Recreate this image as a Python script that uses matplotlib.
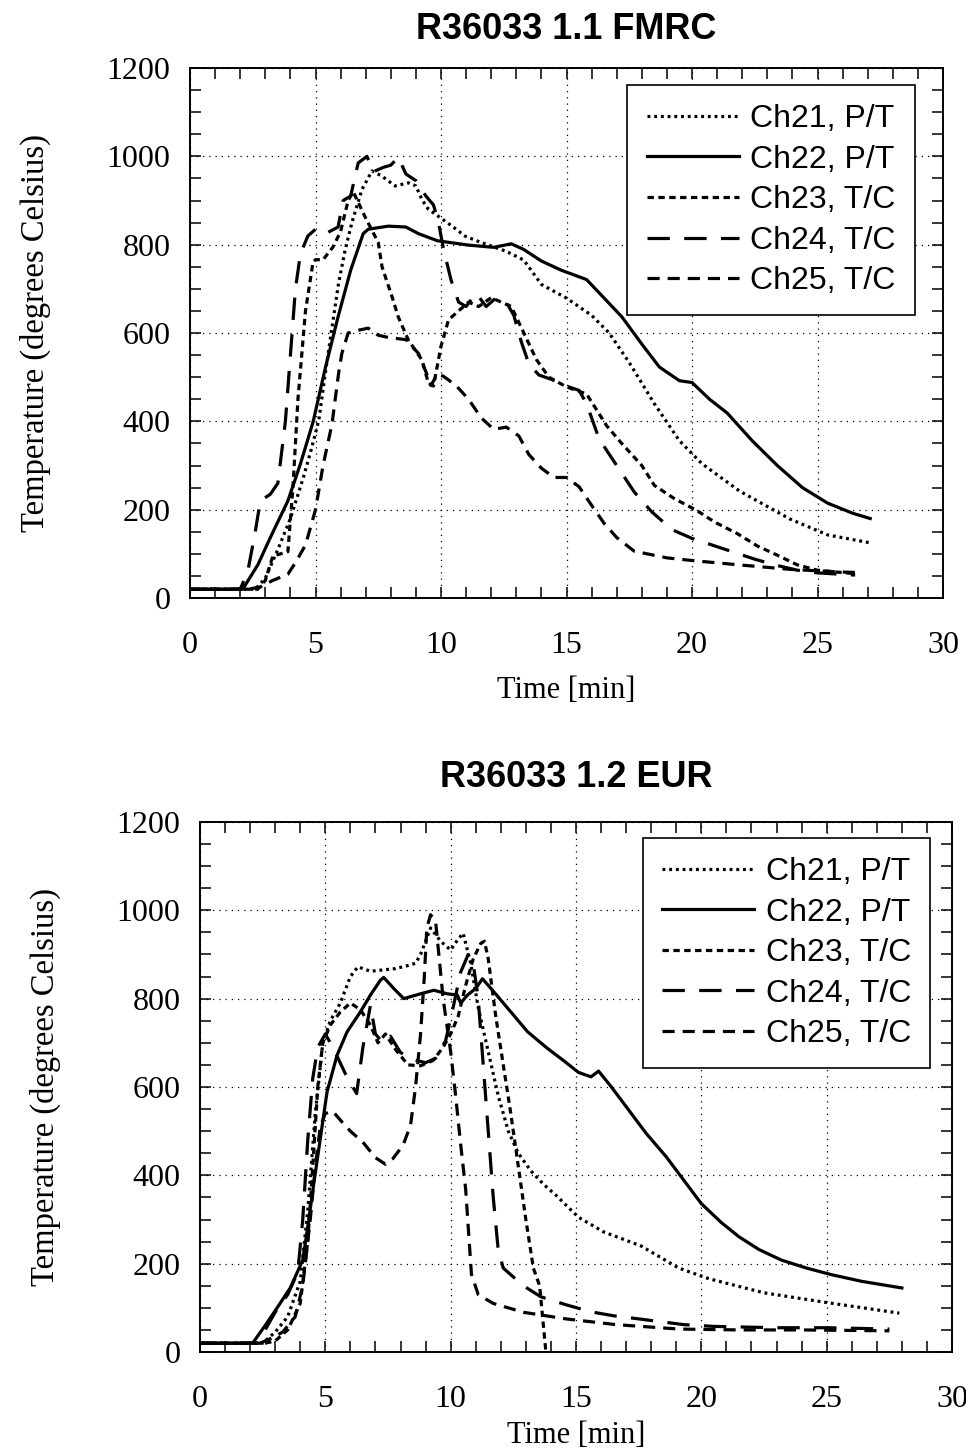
import matplotlib
matplotlib.use("Agg")
import matplotlib.pyplot as plt
from matplotlib.ticker import MultipleLocator

# ---- R36033 1.1 FMRC ----
t21a = [0, 2.6, 3.0, 3.5, 4.0, 4.5, 4.8, 5.13, 5.39, 5.66, 5.92, 6.18, 6.45, 6.85, 7.25, 7.65, 8.17, 8.7, 9.0, 9.24, 9.5, 9.9, 10.44, 10.97, 11.6, 12.1, 12.6, 13.3, 14.0, 15.0, 16.0, 16.7, 17.5, 18.5, 19.5, 20.4, 21.9, 23.9, 25.4, 27.1]
T21a = [20, 20, 45, 110, 180, 270, 330, 402, 509, 614, 713, 788, 850, 925, 967, 955, 933, 940, 933, 902, 880, 864, 842, 819, 805, 795, 785, 765, 710, 679, 640, 600, 533, 440, 356, 304, 242, 179, 143, 125]

t22a = [0, 2.1, 2.7, 3.2, 3.9, 4.4, 4.9, 5.4, 5.9, 6.4, 6.9, 7.1, 7.9, 8.6, 9.1, 9.85, 11.1, 12.1, 12.8, 13.3, 14.0, 14.8, 15.8, 16.5, 17.2, 18.0, 18.7, 19.5, 20.0, 20.7, 21.4, 22.4, 23.4, 24.4, 25.4, 26.4, 27.1]
T22a = [20, 20, 75, 137, 220, 304, 398, 523, 637, 742, 825, 835, 842, 840, 825, 809, 799, 794, 802, 789, 763, 742, 721, 679, 637, 575, 523, 492, 488, 450, 419, 356, 300, 250, 215, 192, 180]

t23a = [0, 2.7, 3.0, 3.3, 3.9, 4.1, 4.3, 4.6, 4.9, 5.0, 5.3, 5.7, 6.0, 6.3, 6.5, 7.0, 7.5, 7.65, 8.05, 8.3, 8.7, 9.24, 9.5, 9.7, 10.0, 10.3, 10.7, 11.1, 11.5, 12.0, 12.4, 12.8, 13.3, 13.8, 14.3, 15.0, 15.8, 16.1, 16.6, 17.2, 17.6, 18.0, 18.5, 19.3, 20.2, 20.9, 21.8, 22.6, 23.4, 24.2, 25.0, 26.5]
T23a = [20, 20, 40, 95, 105, 250, 450, 650, 760, 766, 766, 795, 830, 900, 920, 860, 805, 750, 682, 636, 584, 539, 486, 480, 570, 630, 650, 670, 660, 680, 670, 660, 600, 540, 500, 478, 462, 435, 390, 350, 325, 300, 255, 225, 198, 172, 146, 118, 97, 75, 63, 55]

t24a = [0, 2.0, 2.3, 2.6, 2.8, 3.2, 3.5, 3.8, 4.0, 4.2, 4.4, 4.7, 5.0, 5.4, 5.9, 6.1, 6.4, 6.7, 7.05, 7.3, 7.7, 8.0, 8.3, 8.6, 9.0, 9.4, 9.7, 9.9, 10.1, 10.4, 10.7, 11.0, 11.4, 11.8, 12.2, 12.6, 12.9, 13.2, 13.5, 13.9, 14.4, 15.0, 15.5, 15.8, 16.3, 17.0, 17.7, 18.4, 19.2, 20.0, 20.8, 21.6, 22.5, 23.3, 24.2, 25.0, 26.5]
T24a = [20, 20, 60, 150, 220, 235, 260, 400, 550, 700, 780, 820, 835, 825, 840, 900, 910, 985, 1000, 965, 975, 980, 998, 960, 945, 910, 890, 850, 790, 720, 670, 660, 690, 660, 680, 670, 640, 580, 530, 505, 495, 480, 470, 440, 360, 300, 240, 195, 155, 135, 120, 105, 88, 75, 63, 57, 52]

t25a = [0, 2.3, 2.8, 3.3, 3.9, 4.2, 4.6, 5.0, 5.3, 5.66, 5.78, 5.92, 6.05, 6.3, 6.6, 7.1, 7.5, 7.9, 8.6, 9.1, 9.4, 9.6, 9.85, 10.1, 10.6, 11.1, 11.6, 12.1, 12.6, 13.1, 13.5, 14.0, 14.5, 15.0, 15.5, 16.0, 16.5, 17.0, 17.7, 19.0, 20.0, 21.9, 23.9, 25.9, 26.5]
T25a = [20, 20, 25, 40, 54, 80, 120, 200, 300, 395, 448, 509, 554, 600, 605, 611, 595, 590, 585, 554, 512, 481, 507, 502, 481, 450, 408, 382, 387, 367, 325, 294, 273, 273, 252, 210, 169, 137, 106, 91, 85, 75, 65, 59, 58]

# ---- R36033 1.2 EUR ----
t21b = [0, 2.5, 3.0, 3.5, 4.0, 4.3, 4.6, 4.9, 5.2, 5.6, 6.0, 6.3, 6.8, 7.3, 7.8, 8.3, 8.6, 8.8, 9.2, 9.6, 10.0, 10.3, 10.5, 10.8, 11.1, 11.5, 11.9, 12.3, 12.7, 13.2, 13.7, 14.2, 15.1, 16.1, 17.6, 19.1, 20.3, 22.5, 25.0, 27.9]
T21b = [20, 20, 45, 80, 160, 320, 540, 700, 750, 790, 850, 872, 862, 865, 868, 875, 880, 900, 960, 930, 910, 935, 948, 880, 780, 680, 580, 500, 450, 410, 380, 355, 305, 272, 240, 190, 166, 134, 112, 88]

t22b = [0, 2.1, 2.6, 3.1, 3.6, 4.1, 4.3, 4.53, 4.8, 5.07, 5.47, 5.87, 6.4, 6.8, 7.2, 7.33, 7.73, 8.13, 8.8, 9.33, 9.87, 10.27, 10.4, 10.67, 11.0, 11.27, 11.73, 12.4, 13.07, 13.87, 14.5, 15.1, 15.6, 15.9, 16.4, 17.1, 17.8, 18.6, 19.3, 20.0, 20.8, 21.5, 22.3, 23.2, 24.2, 25.2, 26.4, 28.0]
T22b = [20, 20, 60, 102, 145, 208, 283, 377, 483, 589, 672, 725, 770, 808, 842, 848, 823, 800, 811, 819, 811, 808, 790, 808, 823, 845, 815, 770, 725, 687, 660, 633, 623, 636, 601, 548, 495, 442, 389, 336, 293, 261, 232, 208, 190, 175, 160, 145]

t23b = [0, 2.6, 3.0, 3.5, 4.0, 4.3, 4.5, 4.7, 4.9, 5.2, 5.6, 6.0, 6.4, 6.8, 7.1, 7.4, 7.8, 8.3, 8.8, 9.3, 9.7, 10.0, 10.3, 10.6, 10.9, 11.2, 11.35, 11.5, 11.8, 12.1, 12.4, 12.7, 13.0, 13.3, 13.55, 13.7, 13.8]
T23b = [20, 20, 25, 50, 110, 250, 420, 600, 700, 740, 770, 790, 775, 740, 700, 720, 685, 650, 648, 660, 690, 720, 760, 830, 890, 925, 930, 890, 760, 650, 540, 420, 300, 190, 150, 60, 0]

t24b = [0, 2.3, 2.6, 3.0, 3.5, 3.9, 4.1, 4.3, 4.5, 4.7, 5.0, 5.3, 5.8, 6.25, 6.5, 6.8, 7.0, 7.3, 7.6, 8.0, 8.5, 9.0, 9.4, 9.8, 10.1, 10.4, 10.7, 10.9, 11.1, 11.3, 11.5, 11.7, 11.9, 12.1, 12.9, 13.6, 14.6, 15.6, 16.5, 17.5, 19.3, 20.5, 23.0, 25.0, 27.5]
T24b = [20, 20, 50, 90, 130, 180, 300, 480, 620, 690, 720, 690, 630, 585, 690, 785, 720, 700, 715, 678, 662, 655, 665, 705, 780, 860, 900, 880, 800, 650, 500, 350, 230, 190, 150, 125, 107, 91, 82, 75, 62, 58, 55, 55, 52]

t25b = [0, 2.4, 2.8, 3.3, 3.8, 4.1, 4.4, 4.6, 4.8, 5.0, 5.3, 5.6, 6.0, 6.5, 7.0, 7.4, 7.7, 8.1, 8.4, 8.6, 8.8, 8.95, 9.05, 9.2, 9.4, 9.7, 10.0, 10.2, 10.4, 10.6, 10.83, 11.1, 11.7, 12.9, 14.6, 16.6, 19.1, 21.5, 24.0, 27.5]
T25b = [20, 20, 30, 45, 80, 150, 300, 420, 510, 540, 545, 525, 500, 475, 440, 425, 438, 468, 513, 600, 720, 850, 960, 990, 975, 800, 680, 580, 470, 368, 176, 130, 110, 90, 75, 62, 52, 50, 50, 48]

labels = ["Ch21, P/T", "Ch22, P/T", "Ch23, T/C", "Ch24, T/C", "Ch25, T/C"]
styles = [(0, (0.9, 1.2)), "solid", (0, (2.0, 1.4)), (0, (7, 4.5)), (0, (3.8, 2.5))]

serif = "Liberation Serif"
sans = "Liberation Sans"

fig = plt.figure(figsize=(9.66, 14.53), dpi=100)
ax1 = fig.add_axes([0.1967, 0.5884, 0.7795, 0.3648])
ax2 = fig.add_axes([0.2070, 0.0695, 0.7785, 0.3648])

panels = [
    (ax1, "R36033 1.1 FMRC", [(t21a, T21a), (t22a, T22a), (t23a, T23a), (t24a, T24a), (t25a, T25a)], (0.963, 0.968), 21, 11),
    (ax2, "R36033 1.2 EUR", [(t21b, T21b), (t22b, T22b), (t23b, T23b), (t24b, T24b), (t25b, T25b)], (0.971, 0.970), 25, 5),
]

for ax, title, series, anchor, tpad, xpad in panels:
    for (t, T), lab, ls in zip(series, labels, styles):
        ax.plot(t, T, color="black", lw=2.3, linestyle=ls, label=lab)
    ax.set_xlim(0, 30)
    ax.set_ylim(0, 1200)
    ax.xaxis.set_major_locator(MultipleLocator(5))
    ax.xaxis.set_minor_locator(MultipleLocator(1))
    ax.yaxis.set_major_locator(MultipleLocator(200))
    ax.yaxis.set_minor_locator(MultipleLocator(50))
    ax.tick_params(which="both", direction="in", top=True, right=True,
                   length=8, width=1.1, color="black")
    ax.tick_params(axis="x", which="major", pad=24, labelsize=23)
    ax.tick_params(axis="y", which="major", pad=14, labelsize=23)
    for lab in ax.get_xticklabels() + ax.get_yticklabels():
        lab.set_fontfamily(serif)
    ax.grid(True, which="major", color="black", lw=0.9, linestyle=(0, (1, 4)))
    for sp in ax.spines.values():
        sp.set_linewidth(1.4)
    ax.set_xlabel("Time [min]", fontfamily=serif, fontsize=22, labelpad=xpad)
    ax.set_ylabel("Temperature (degrees Celsius)", fontfamily=serif, fontsize=23.5, labelpad=40)
    ax.set_title(title, fontfamily=sans, fontweight="bold", fontsize=26, pad=tpad)
    leg = ax.legend(loc="upper right", bbox_to_anchor=anchor, frameon=True, fancybox=False,
                    prop={"family": sans, "size": 23}, handlelength=2.9, handletextpad=0.35,
                    labelspacing=0.33, borderpad=0.6, borderaxespad=0)
    leg.get_frame().set_edgecolor("black")
    leg.get_frame().set_linewidth(1.2)
    leg.get_frame().set_alpha(1)

fig.savefig("out.png", dpi=100)
